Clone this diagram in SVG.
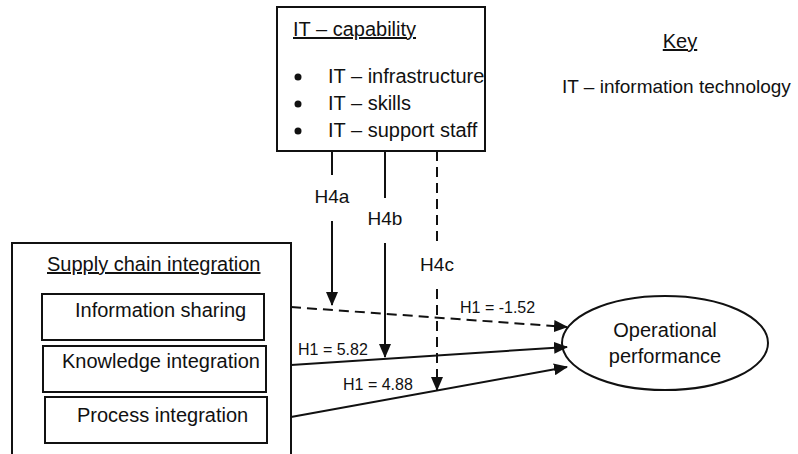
<svg xmlns="http://www.w3.org/2000/svg" width="798" height="454" viewBox="0 0 798 454">
<style>
text{font-family:"Liberation Sans",Arial,sans-serif;font-size:20px;fill:#111}
.h4{font-size:19px}
.h1{font-size:16px}
.box{fill:#fff;stroke:#111;stroke-width:2}
.ln{fill:none;stroke:#111;stroke-width:2}
.dash{stroke-dasharray:10 6}
.u{text-decoration:underline}
</style>
<defs>
<marker id="ah" markerUnits="userSpaceOnUse" markerWidth="14" markerHeight="12" refX="13" refY="6" orient="auto">
<path d="M0,0 L14,6 L0,12 Z" fill="#111"/>
</marker>
</defs>
<rect width="798" height="454" fill="#fff"/>
<g id="it-capability">
<rect class="box" x="277" y="7" width="208" height="144"/>
<text x="293" y="36" class="u">IT – capability</text>
<circle cx="298" cy="77" r="3.5" fill="#111"/>
<circle cx="298" cy="104" r="3.5" fill="#111"/>
<circle cx="298" cy="131" r="3.5" fill="#111"/>
<text x="328" y="83">IT – infrastructure</text>
<text x="328" y="110">IT – skills</text>
<text x="328" y="137">IT – support staff</text>
</g>
<g id="key">
<text x="680" y="48" text-anchor="middle" class="u">Key</text>
<text x="562" y="93" style="font-size:19px">IT – information technology</text>
</g>
<g id="supply-chain-integration">
<rect class="box" x="12" y="243" width="279" height="220"/>
<text x="47" y="271" class="u">Supply chain integration</text>
</g>
<g id="information-sharing">
<rect class="box" x="42" y="294" width="222" height="46"/>
<text x="75" y="317">Information sharing</text>
</g>
<g id="knowledge-integration">
<rect class="box" x="43" y="346" width="223" height="46"/>
<text x="62" y="368">Knowledge integration</text>
</g>
<g id="process-integration">
<rect class="box" x="45" y="397" width="222" height="46"/>
<text x="77" y="422">Process integration</text>
</g>
<g id="operational-performance">
<ellipse class="box" cx="665" cy="343" rx="103" ry="47"/>
<text x="665" y="337" text-anchor="middle">Operational</text>
<text x="665" y="363" text-anchor="middle">performance</text>
</g>
<g id="connectors">
<line class="ln dash" x1="291" y1="307" x2="567" y2="327" marker-end="url(#ah)"/>
<line class="ln" x1="291" y1="365" x2="567" y2="347" marker-end="url(#ah)"/>
<line class="ln" x1="291" y1="417" x2="567" y2="367" marker-end="url(#ah)"/>
<line class="ln" x1="332" y1="151" x2="332" y2="175"/>
<line class="ln" x1="332" y1="221" x2="332" y2="305" marker-end="url(#ah)"/>
<line class="ln" x1="385" y1="151" x2="385" y2="198"/>
<line class="ln" x1="385" y1="243" x2="385" y2="357" marker-end="url(#ah)"/>
<line class="ln dash" x1="437" y1="151" x2="437" y2="243"/>
<line class="ln dash" x1="437" y1="289" x2="437" y2="390" marker-end="url(#ah)"/>
<text x="332" y="203" text-anchor="middle" class="h4">H4a</text>
<text x="385" y="225" text-anchor="middle" class="h4">H4b</text>
<text x="437" y="271" text-anchor="middle" class="h4">H4c</text>
<text x="460" y="313" class="h1">H1 = -1.52</text>
<text x="298" y="355" class="h1">H1 = 5.82</text>
<text x="343" y="390" class="h1">H1 = 4.88</text>
</g>
</svg>
